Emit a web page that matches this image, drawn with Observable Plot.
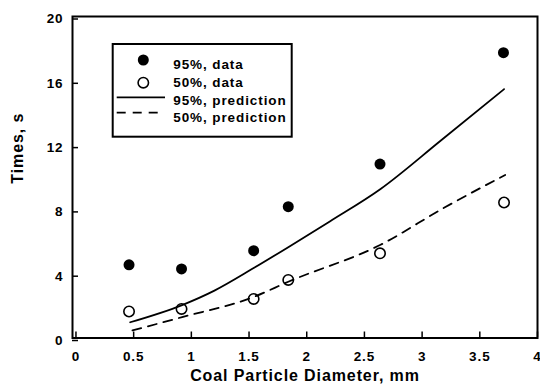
<!DOCTYPE html>
<html><head><meta charset="utf-8">
<script src="https://cdn.jsdelivr.net/npm/d3@7"></script>
<script src="https://cdn.jsdelivr.net/npm/@observablehq/plot@0.6"></script>
<style>
body{margin:0;background:#fff}
svg text{letter-spacing:0.9px}
</style>
</head><body><div id="chart"></div>
<script>
// measured data
const diam95 = [0.46, 0.915, 1.54, 1.84, 2.635, 3.705];
const time95 = [4.55, 4.3, 5.43, 8.17, 10.82, 17.75];
const diam50 = [0.46, 0.915, 1.54, 1.84, 2.635, 3.71];
const time50 = [1.65, 1.81, 2.43, 3.61, 5.27, 8.43];
// predictions
const pred95X = [0.47, 0.92, 1.2, 1.54, 1.84, 2.2, 2.64, 3.16, 3.71];
const pred95Y = [0.98, 2.05, 2.95, 4.35, 5.65, 7.25, 9.27, 12.27, 15.48];
const pred50X = [0.49, 0.92, 1.54, 1.84, 2.64, 3.19, 3.72];
const pred50Y = [0.47, 1.3, 2.55, 3.5, 5.8, 8.1, 10.14];
// ticks and text
const xTicks = [0, 0.5, 1, 1.5, 2, 2.5, 3, 3.5, 4];
const xTickLabels = ["0", "0.5", "1", "1.5", "2", "2.5", "3", "3.5", "4"];
const yTicks = [0, 4, 8, 12, 16, 20];
const yTickLabels = ["0", "4", "8", "12", "16", "20"];
const legendLabels = ["95%, data", "50%, data", "95%, prediction", "50%, prediction"];
const xTitle = "Coal Particle Diameter, mm";
const yTitle = "Times, s";

const pts95 = diam95.map((x, i) => ({x, y: time95[i]}));
const pts50 = diam50.map((x, i) => ({x, y: time50[i]}));
const line95 = pred95X.map((x, i) => ({x, y: pred95Y[i]}));
const line50 = pred50X.map((x, i) => ({x, y: pred50Y[i]}));

const font = "'Liberation Sans', Arial, sans-serif";
const chart = Plot.plot({
  width: 540, height: 387,
  marginLeft: 72, marginRight: 3, marginTop: 16, marginBottom: 49.5,
  style: {fontFamily: font, fontWeight: "bold", fontSize: "13.5px", color: "#000", background: "#fff"},
  x: {domain: [-0.03, 4]},
  y: {domain: [0, 20]},
  marks: [
    Plot.axisX(xTicks, {tickSize: -6, tickPadding: 19, strokeWidth: 1.5, tickFormat: d => xTickLabels[xTicks.indexOf(d)], label: null}),
    Plot.axisY(yTicks, {tickSize: -6, tickPadding: 15, dy: 2.5, strokeWidth: 1.5, tickFormat: d => yTickLabels[yTicks.indexOf(d)], label: null}),
    Plot.frame({stroke: "#000", strokeWidth: 2}),
    Plot.line(line95, {x: "x", y: "y", stroke: "#000", strokeWidth: 1.8, curve: "monotone-x"}),
    Plot.line(line50, {x: "x", y: "y", stroke: "#000", strokeWidth: 1.8, strokeDasharray: "9,7", curve: "monotone-x"}),
    Plot.dot(pts95, {x: "x", y: "y", r: 5.5, fill: "#000", stroke: "none"}),
    Plot.dot(pts50, {x: "x", y: "y", r: 5.2, fill: "none", stroke: "#000", strokeWidth: 1.6}),
    Plot.text([xTitle], {frameAnchor: "bottom", dy: 42.5, fontSize: 16, fontWeight: "bold", fill: "#000"}),
    Plot.text([yTitle], {frameAnchor: "left", dx: -54.5, dy: 6.4, rotate: -90, fontSize: 16, fontWeight: "bold", fill: "#000"})
  ]
});
document.getElementById("chart").appendChild(chart);

// legend
const svg = d3.select(chart);
const lg = svg.append("g").attr("font-family", font).attr("font-weight", "bold").attr("font-size", 13.5).attr("text-anchor", "start");
lg.append("rect").attr("x", 112.7).attr("y", 44).attr("width", 179).attr("height", 92.7)
  .attr("fill", "#fff").attr("stroke", "#000").attr("stroke-width", 2);
lg.append("circle").attr("cx", 143.3).attr("cy", 60).attr("r", 5.5).attr("fill", "#000");
lg.append("circle").attr("cx", 143.3).attr("cy", 82.7).attr("r", 5.2).attr("fill", "none").attr("stroke", "#000").attr("stroke-width", 1.6);
lg.append("line").attr("x1", 116.7).attr("x2", 165).attr("y1", 97.3).attr("y2", 97.3).attr("stroke", "#000").attr("stroke-width", 1.8);
lg.append("line").attr("x1", 116.7).attr("x2", 163).attr("y1", 112.7).attr("y2", 112.7).attr("stroke", "#000").attr("stroke-width", 1.8).attr("stroke-dasharray", "9,7");
const baselines = [69, 86.5, 104.5, 121.7];
legendLabels.forEach((t, i) => {
  lg.append("text").attr("x", 173.3).attr("y", baselines[i]).attr("fill", "#000").attr("text-anchor", "start").text(t);
});
</script>
</body></html>
